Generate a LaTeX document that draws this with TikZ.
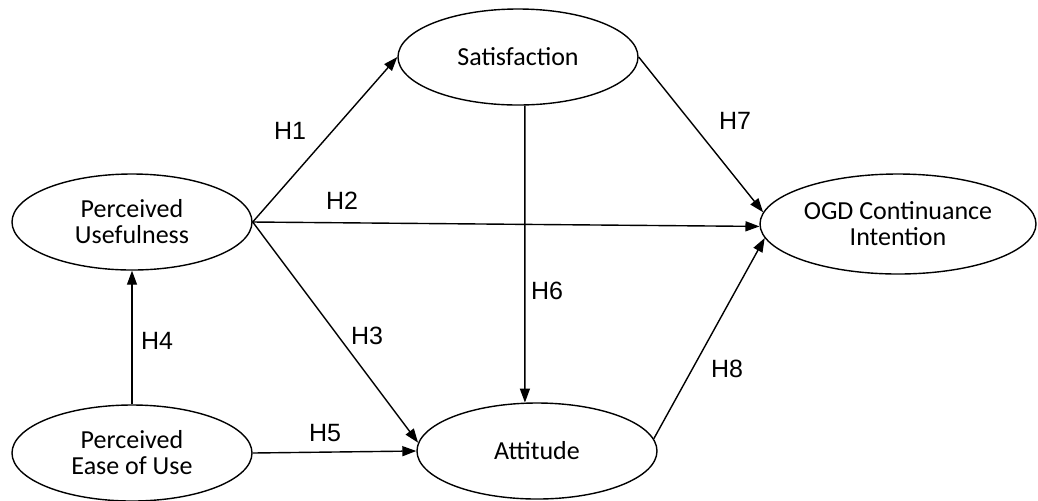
\documentclass[tikz,border=0pt]{standalone}
\usepackage{fontspec}
\setmainfont{Carlito}
\newfontfamily\hypfont{Liberation Sans}
\usetikzlibrary{shapes.geometric,arrows.meta}
\tikzset{
  construct/.style={draw,ellipse,line width=0.7pt,inner sep=0pt,align=center,
    minimum width=120pt,minimum height=48pt,font=\fontsize{13}{13}\selectfont},
  hyp/.style={font=\hypfont\fontsize{12.5}{14}\selectfont},
  arr/.style={-{Triangle[length=7pt,width=5pt]},line width=0.7pt}
}
\begin{document}
\begin{tikzpicture}[x=0.5pt,y=-0.5pt]
\useasboundingbox (0,0) rectangle (1038,500);

\node[construct] (pu) at (132,222) {Perceived\\Usefulness};
\node[construct] (peu) at (132,453) {Perceived\\Ease of Use};
\node[construct] (sat) at (518,57) {Satisfaction};
\node[construct] (att) at (537,451) {Attitude};
\node[construct,minimum width=138pt,minimum height=50pt] (ogd) at (898,224) {OGD Continuance\\Intention};

\draw[arr] (pu.east) to (sat.west);
\draw[arr] (pu.east) to (ogd.181);
\draw[arr] (pu.east) to (att.176);
\draw[arr] (peu.north) to (pu.south);
\draw[arr] (peu.east) to (att.west);
\draw[arr] (sat.-82) to (att.104);
\draw[arr] (sat.east) to (ogd.175);
\draw[arr] (att.6) to (ogd.186);

\node[hyp] (h1) at (290,131) {H1};
\node[hyp] (h2) at (342,201) {H2};
\node[hyp] (h3) at (367,336) {H3};
\node[hyp] (h4) at (157,341) {H4};
\node[hyp] (h5) at (325,433) {H5};
\node[hyp] (h6) at (547,291) {H6};
\node[hyp] (h7) at (735,121) {H7};
\node[hyp] (h8) at (727,369) {H8};
\end{tikzpicture}
\end{document}
